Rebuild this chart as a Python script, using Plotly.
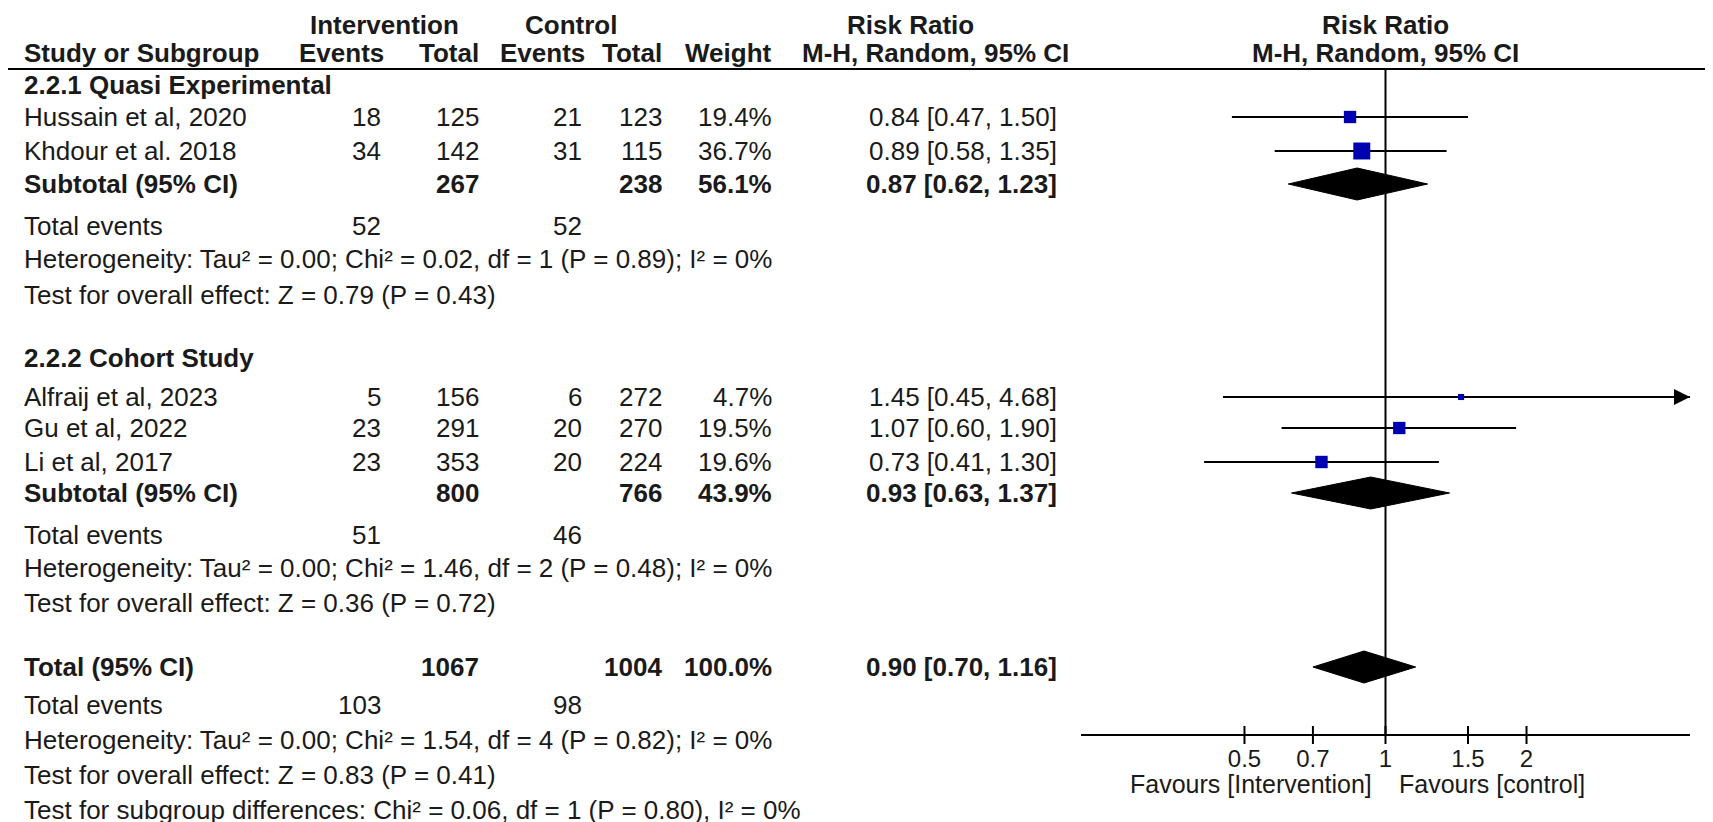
import math
import plotly.graph_objects as go

# ---- data ----
group_names = ["2.2.1 Quasi Experimental", "2.2.2 Cohort Study"]

studies = ["Hussain et al, 2020", "Khdour et al. 2018",
           "Alfraij et al, 2023", "Gu et al, 2022", "Li et al, 2017"]
int_events = [18, 34, 5, 23, 23]
int_total = [125, 142, 156, 291, 353]
ctl_events = [21, 31, 6, 20, 20]
ctl_total = [123, 115, 272, 270, 224]
weights = [19.4, 36.7, 4.7, 19.5, 19.6]
rr = [0.84, 0.89, 1.45, 1.07, 0.73]
rr_lo = [0.47, 0.58, 0.45, 0.60, 0.41]
rr_hi = [1.50, 1.35, 4.68, 1.90, 1.30]

pooled_labels = ["Subtotal (95% CI)", "Subtotal (95% CI)", "Total (95% CI)"]
pooled_int_total = [267, 800, 1067]
pooled_ctl_total = [238, 766, 1004]
pooled_weight = [56.1, 43.9, 100.0]
pooled_rr = [0.87, 0.93, 0.90]
pooled_lo = [0.62, 0.63, 0.70]
pooled_hi = [1.23, 1.37, 1.16]

tot_int_events = [52, 51, 103]
tot_ctl_events = [52, 46, 98]
heterogeneity = [
    "Heterogeneity: Tau² = 0.00; Chi² = 0.02, df = 1 (P = 0.89); I² = 0%",
    "Heterogeneity: Tau² = 0.00; Chi² = 1.46, df = 2 (P = 0.48); I² = 0%",
    "Heterogeneity: Tau² = 0.00; Chi² = 1.54, df = 4 (P = 0.82); I² = 0%",
]
overall_effect = [
    "Test for overall effect: Z = 0.79 (P = 0.43)",
    "Test for overall effect: Z = 0.36 (P = 0.72)",
    "Test for overall effect: Z = 0.83 (P = 0.41)",
]
subgroup_test = "Test for subgroup differences: Chi² = 0.06, df = 1 (P = 0.80), I² = 0%"

tick_vals = [0.5, 0.7, 1, 1.5, 2]
tick_text = ["0.5", "0.7", "1", "1.5", "2"]
favours_left = "Favours [Intervention]"
favours_right = "Favours [control]"

# ---- layout (pixel rows / columns) ----
W, H = 1713, 822
y_head = [17, 45]
y_rule = 61
y_group = [77, 350]
y_study = [109, 143, 389, 420, 454]
y_pooled = [176, 485, 659]
y_tot_ev = [218, 527, 697]
y_het = [251, 560, 732]
y_test = [287, 595, 767]
y_subgroup = 802
y_axis = 727

x_name = 14
x_int_ev, x_int_tot = 375, 473
x_ctl_ev, x_ctl_tot = 576, 656
x_weight = 766
x_rr = 1051
plot_dom = [1073 / W, 1682 / W]
log_range = [-0.65, 0.65]
rmax = 10 ** log_range[1]

FONT = "Liberation Sans, Arial, sans-serif"
TXT = "#1a1a1a"
FS = 26
BLUE = "#0000B0"

fig = go.Figure()
ann = []


def text(x, y, s, anchor="right", bold=False, size=FS, xref="x"):
    ann.append(dict(x=x, y=y, xref=xref, yref="y", text=f"<b>{s}</b>" if bold else s,
                    showarrow=False, xanchor=anchor, yanchor="middle",
                    font=dict(family=FONT, size=size, color=TXT)))


# headers
text(376, y_head[0], "Intervention", "center", True)
text(563, y_head[0], "Control", "center", True)
text(902, y_head[0], "Risk Ratio", "center", True)
text(0, y_head[0], "Risk Ratio", "center", True, xref="x2")
text(x_name, y_head[1], "Study or Subgroup", "left", True)
text(x_int_ev + 3, y_head[1], "Events", bold=True)
text(x_int_tot, y_head[1], "Total", bold=True)
text(x_ctl_ev + 3, y_head[1], "Events", bold=True)
text(x_ctl_tot, y_head[1], "Total", bold=True)
text(x_weight, y_head[1], "Weight", bold=True)
text(x_rr + 12, y_head[1], "M-H, Random, 95% CI", bold=True)
text(0, y_head[1], "M-H, Random, 95% CI", "center", True, xref="x2")

for g, y in zip(group_names, y_group):
    text(x_name, y, g, "left", True)

for i, s in enumerate(studies):
    y = y_study[i]
    text(x_name, y, s, "left")
    text(x_int_ev, y, str(int_events[i]))
    text(x_int_tot, y, str(int_total[i]))
    text(x_ctl_ev, y, str(ctl_events[i]))
    text(x_ctl_tot, y, str(ctl_total[i]))
    text(x_weight, y, f"{weights[i]:.1f}%")
    text(x_rr, y, f"{rr[i]:.2f} [{rr_lo[i]:.2f}, {rr_hi[i]:.2f}]")

for k in range(3):
    y = y_pooled[k]
    text(x_name, y, pooled_labels[k], "left", True)
    text(x_int_tot, y, str(pooled_int_total[k]), bold=True)
    text(x_ctl_tot, y, str(pooled_ctl_total[k]), bold=True)
    text(x_weight, y, f"{pooled_weight[k]:.1f}%", bold=True)
    text(x_rr, y, f"{pooled_rr[k]:.2f} [{pooled_lo[k]:.2f}, {pooled_hi[k]:.2f}]", bold=True)
    text(x_name, y_tot_ev[k], "Total events", "left")
    text(x_int_ev, y_tot_ev[k], str(tot_int_events[k]))
    text(x_ctl_ev, y_tot_ev[k], str(tot_ctl_events[k]))
    text(x_name, y_het[k], heterogeneity[k], "left")
    text(x_name, y_test[k], overall_effect[k], "left")

text(x_name, y_subgroup, subgroup_test, "left")

# favours labels either side of the null line
for s, anc, shift in [(favours_left, "right", -12), (favours_right, "left", 11)]:
    ann.append(dict(x=0, y=776, xref="x2", yref="y", text=s, showarrow=False,
                    xanchor=anc, yanchor="middle", xshift=shift,
                    font=dict(family=FONT, size=25, color=TXT)))

# null line
fig.add_trace(go.Scatter(x=[1, 1], y=[y_rule, y_axis], xaxis="x2", yaxis="y",
                         mode="lines", line=dict(color="black", width=2),
                         hoverinfo="skip"))

# tick marks crossing the axis line
tx, ty = [], []
for v in tick_vals:
    tx += [v, v, None]
    ty += [y_axis - 9, y_axis + 9, None]
fig.add_trace(go.Scatter(x=tx, y=ty, xaxis="x2", yaxis="y", mode="lines",
                         line=dict(color="black", width=2), hoverinfo="skip"))

# study CIs (clipped at the axis end, with an arrow when beyond it)
for i in range(len(studies)):
    hi = min(rr_hi[i], rmax)
    fig.add_trace(go.Scatter(x=[rr_lo[i], hi], y=[y_study[i]] * 2, xaxis="x2", yaxis="y",
                             mode="lines", line=dict(color="black", width=2),
                             hoverinfo="skip"))
    if rr_hi[i] > rmax:
        ann.append(dict(x=log_range[1], y=y_study[i], xref="x2", yref="y", text="",
                        showarrow=True, ax=-30, ay=0, arrowhead=2, arrowsize=1.6,
                        arrowwidth=2, arrowcolor="black"))

fig.add_trace(go.Scatter(
    x=rr, y=y_study, xaxis="x2", yaxis="y", mode="markers",
    marker=dict(symbol="square", color=BLUE, opacity=1,
                size=[2.8 * math.sqrt(w) for w in weights],
                line=dict(width=0)),
    hovertext=studies))

# pooled diamonds
for k in range(3):
    yc = y_pooled[k]
    h = 16
    fig.add_trace(go.Scatter(
        x=[pooled_lo[k], pooled_rr[k], pooled_hi[k], pooled_rr[k], pooled_lo[k]],
        y=[yc, yc - h, yc, yc + h, yc], xaxis="x2", yaxis="y",
        mode="lines", fill="toself", fillcolor="black",
        line=dict(color="black", width=1), hoverinfo="skip"))

fig.update_layout(
    width=W, height=H, margin=dict(l=0, r=0, t=0, b=0),
    paper_bgcolor="white", plot_bgcolor="white", showlegend=False,
    xaxis=dict(range=[0, W], domain=[0, 1], visible=False),
    yaxis=dict(range=[H, 0], domain=[0, 1], visible=False),
    xaxis2=dict(type="log", range=log_range, domain=plot_dom, anchor="free",
                position=1 - y_axis / H, showline=True, linecolor="black", linewidth=2,
                showgrid=False, zeroline=False, ticks="", tickvals=tick_vals,
                ticktext=tick_text, ticklabelstandoff=2,
                tickfont=dict(family=FONT, size=24, color=TXT)),
    annotations=ann,
    shapes=[dict(type="line", xref="paper", yref="y", x0=0, x1=1, y0=y_rule, y1=y_rule,
                 line=dict(color="black", width=2))],
)

fig.write_html("out.html")
